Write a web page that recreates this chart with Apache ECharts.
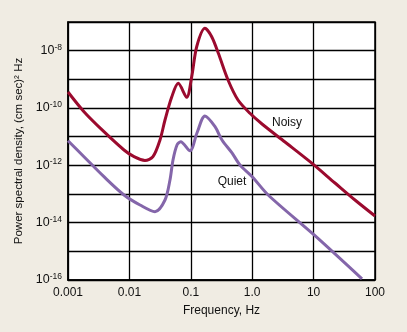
<!DOCTYPE html>
<html>
<head>
<meta charset="utf-8">
<script src="https://cdn.jsdelivr.net/npm/echarts@6/dist/echarts.min.js"></script>
<style>
html,body{margin:0;padding:0;background:#F0ECE3;}
#c{width:407px;height:332px;}
</style>
</head>
<body>
<div id="c"></div>
<script>
// Frequencies (Hz) and power spectral densities
const noisyFreq = [0.001, 0.00182, 0.00385, 0.00817, 0.0119, 0.0179, 0.0242, 0.0315, 0.0380, 0.0489, 0.0625, 0.0857, 0.1035, 0.1247, 0.170, 0.219, 0.281, 0.404, 0.587, 0.92, 1.445, 3.42, 8.73, 22.3, 47.2, 100];
const noisyPSD  = [3.61e-10, 7.43e-11, 1.49e-11, 3.43e-12, 2.00e-12, 1.48e-12, 2.00e-12, 7.66e-12, 3.82e-11, 2.42e-10, 7.28e-10, 2.37e-10, 1.24e-9, 1.37e-8, 6.03e-8, 3.07e-8, 8.09e-9, 9.48e-10, 1.90e-10, 6.53e-11, 2.77e-11, 6.52e-12, 1.34e-12, 2.42e-13, 6.18e-14, 1.71e-14];
const quietFreq = [0.001, 0.00182, 0.00385, 0.00817, 0.0149, 0.0261, 0.0380, 0.0458, 0.0513, 0.0596, 0.0684, 0.0970, 0.126, 0.170, 0.248, 0.322, 0.469, 0.632, 1.0, 1.82, 10.2, 61.4];
const quietPSD  = [7.24e-12, 2.00e-12, 4.02e-13, 9.25e-14, 4.14e-14, 2.42e-14, 6.18e-14, 3.08e-13, 1.54e-12, 5.13e-12, 6.68e-12, 3.24e-12, 1.34e-11, 5.26e-11, 2.23e-11, 7.66e-12, 2.70e-12, 1.03e-12, 4.02e-13, 9.25e-14, 3.72e-15, 1.09e-16];
const xTickLabels = {"-3": "0.001", "-2": "0.01", "-1": "0.1", "0": "1.0", "1": "10", "2": "100"};
const seriesNames = ["Noisy", "Quiet"];
const labelAnchors = [[3.69, 3.0e-11], [0.469, 2.6e-13]];

const zip = (a, b) => a.map((v, i) => [v, b[i]]);
const FONT = '"Liberation Sans", Arial, sans-serif';

const chart = echarts.init(document.getElementById('c'), null, {renderer: 'canvas'});
chart.setOption({
  backgroundColor: '#F0ECE3',
  animation: false,
  grid: {left: 68, right: 32, top: 22, bottom: 52, show: true, backgroundColor: '#ffffff', borderColor: '#000', borderWidth: 1.5},
  xAxis: {
    type: 'log', logBase: 10, min: 0.001, max: 100, interval: 1,
    name: 'Frequency, Hz', nameLocation: 'middle', nameGap: 25,
    nameTextStyle: {fontFamily: FONT, fontSize: 12, color: '#111'},
    axisLine: {lineStyle: {color: '#000', width: 1.5}},
    axisTick: {show: false},
    axisLabel: {fontFamily: FONT, fontSize: 12, color: '#111', margin: 7,
      formatter: v => xTickLabels[String(Math.round(Math.log10(v)))] || ''},
    splitLine: {show: true, lineStyle: {color: '#000', width: 1.3}},
    minorTick: {show: false}
  },
  yAxis: {
    type: 'log', logBase: 10, min: 1e-16, max: 1e-7, interval: 1,
    name: 'Power spectral density, (cm sec)\u00B2 Hz', nameLocation: 'middle', nameGap: 38,
    nameTextStyle: {fontFamily: FONT, fontSize: 11.5, color: '#111'},
    axisLine: {lineStyle: {color: '#000', width: 1.5}},
    axisTick: {show: false},
    axisLabel: {fontFamily: FONT, fontSize: 12.5, color: '#111', margin: 6,
      formatter: v => { const e = Math.round(Math.log10(v)); return (e % 2 === 0 && e <= -8) ? '10{sup|' + e + '}' : ''; },
      rich: {sup: {fontSize: 8.5, verticalAlign: 'top', padding: [0, 0, 7, 0], fontFamily: FONT, color: '#111'}}},
    splitLine: {show: true, lineStyle: {color: '#000', width: 1.3}}
  },
  series: [
    {name: seriesNames[0], type: 'line', data: zip(noisyFreq, noisyPSD), smooth: 0.3, symbol: 'none',
      lineStyle: {color: '#9B0A2E', width: 3}, z: 3,
      markPoint: {symbol: 'circle', symbolSize: 0, data: [{coord: labelAnchors[0]}],
        label: {show: true, position: 'inside', formatter: seriesNames[0], fontFamily: FONT, fontSize: 12, color: '#111'}}},
    {name: seriesNames[1], type: 'line', data: zip(quietFreq, quietPSD), smooth: 0.3, symbol: 'none',
      lineStyle: {color: '#8466AA', width: 3}, z: 3,
      markPoint: {symbol: 'circle', symbolSize: 0, data: [{coord: labelAnchors[1]}],
        label: {show: true, position: 'inside', formatter: seriesNames[1], fontFamily: FONT, fontSize: 12, color: '#111'}}}
  ]
});
</script>
</body>
</html>
